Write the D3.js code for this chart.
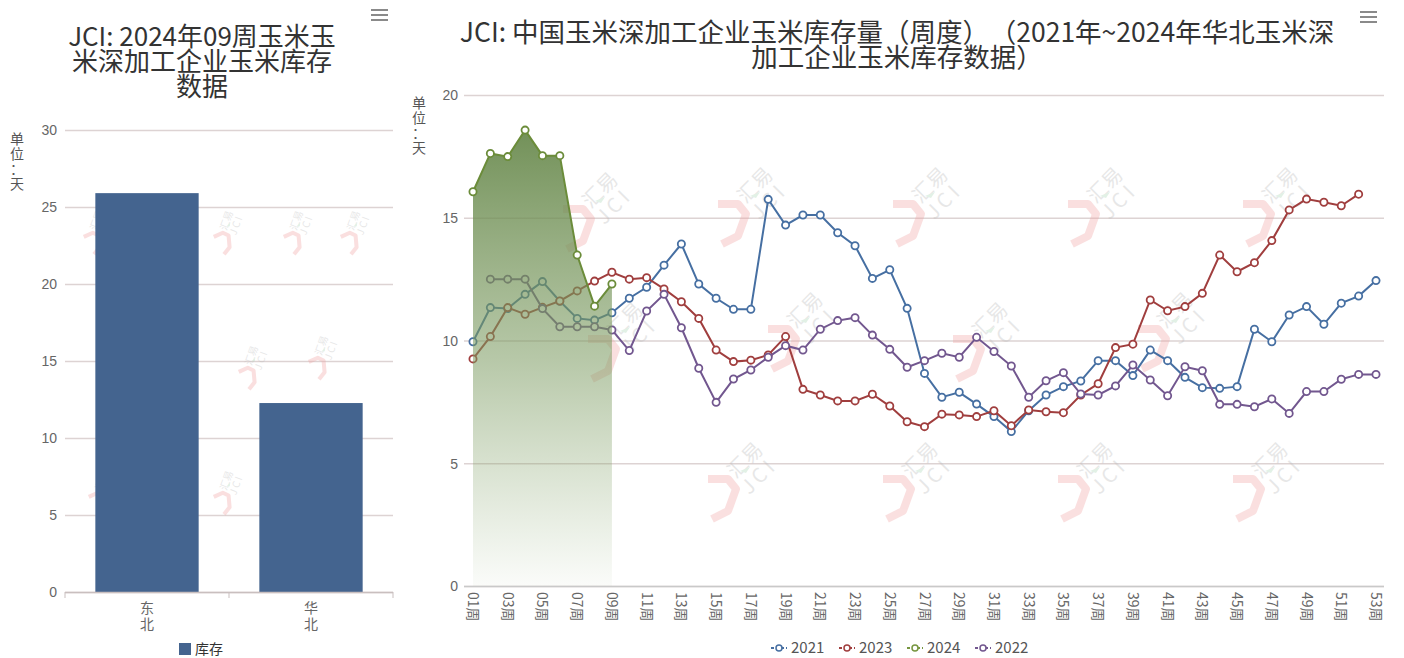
<!DOCTYPE html>
<html>
<head>
<meta charset="utf-8">
<script src="https://cdn.jsdelivr.net/npm/d3@7/dist/d3.min.js"></script>
<style>
  body { margin: 0; background: #fff; }
  svg { display: block; font-family: "Noto Sans CJK SC", "Noto Sans", sans-serif; }
  .tick text { fill: #666; font-size: 14px; }
  .grid line { stroke: #ddd3d3; stroke-width: 1.3; }
  .grid .domain { display: none; }
</style>
</head>
<body>
<div id="chart"></div>
<script>
// ---- data ----
const barCats = ["东北", "华北"];
const barVals = [25.9, 12.27];

const weeks = ["01周","02周","03周","04周","05周","06周","07周","08周","09周","10周",
  "11周","12周","13周","14周","15周","16周","17周","18周","19周","20周",
  "21周","22周","23周","24周","25周","26周","27周","28周","29周","30周",
  "31周","32周","33周","34周","35周","36周","37周","38周","39周","40周",
  "41周","42周","43周","44周","45周","46周","47周","48周","49周","50周",
  "51周","52周","53周"];

const s2021 = [9.95, 11.34, 11.3, 11.88, 12.4, 11.6, 10.9, 10.83, 11.13, 11.72,
  12.17, 13.07, 13.93, 12.3, 11.72, 11.27, 11.27, 15.75, 14.7, 15.11,
  15.11, 14.39, 13.86, 12.53, 12.88, 11.31, 8.66, 7.69, 7.89, 7.41,
  6.9, 6.29, 7.14, 7.78, 8.12, 8.35, 9.18, 9.18, 8.57, 9.61,
  9.18, 8.5, 8.08, 8.05, 8.12, 10.46, 9.95, 11.04, 11.38, 10.66,
  11.52, 11.81, 12.44];
const s2023 = [9.25, 10.16, 11.34, 11.07, 11.35, 11.61, 12.02, 12.42, 12.78, 12.5,
  12.56, 12.1, 11.58, 10.9, 9.61, 9.14, 9.2, 9.41, 10.16, 8.01,
  7.78, 7.54, 7.54, 7.81, 7.33, 6.69, 6.49, 7.0, 6.97, 6.9,
  7.14, 6.53, 7.17, 7.1, 7.06, 7.78, 8.24, 9.71, 9.85, 11.65,
  11.21, 11.38, 11.92, 13.48, 12.8, 13.17, 14.07, 15.32, 15.76, 15.63,
  15.49, 15.96, null];
const s2024 = [16.06, 17.62, 17.49, 18.57, 17.53, 17.53, 13.48, 11.4, 12.3];
const s2022 = [null, 12.5, 12.5, 12.5, 11.3, 10.56, 10.56, 10.56, 10.43, 9.59,
  11.2, 11.88, 10.52, 8.87, 7.48, 8.43, 8.8, 9.32, 9.79, 9.61,
  10.46, 10.81, 10.93, 10.22, 9.64, 8.91, 9.18, 9.48, 9.32, 10.13,
  9.55, 8.96, 7.69, 8.36, 8.69, 7.82, 7.78, 8.15, 9.0, 8.39,
  7.75, 8.93, 8.77, 7.4, 7.4, 7.3, 7.62, 7.03, 7.92, 7.92,
  8.42, 8.62, 8.62];

const seriesNames = ["2021", "2023", "2024", "2022"];
const seriesColors = ["#466fa2", "#a03e3e", "#779640", "#72578f"];

const W = 1404, H = 658;
const svg = d3.select("#chart").append("svg").attr("width", W).attr("height", H);

// ---- watermark helper (faint logo) ----
function watermark(g, x, y, s, rot) {
    let w = g.append("g").attr("transform", `translate(${x},${y}) rotate(${rot || 0}) scale(${s})`).attr("opacity", 0.33);
    w.append("path")
        .attr("d", "M-22,-6 L-2,-6 L6,4 L-2,26 L-18,34")
        .attr("fill", "none").attr("stroke", "#f0a0a0").attr("stroke-width", 8)
        .attr("stroke-linejoin", "round");
    w.append("text").attr("transform", "translate(20,-20) rotate(-45)")
        .attr("font-size", 20).attr("fill", "#b9b9b9").attr("text-anchor", "middle").text("汇易");
    w.append("text").attr("transform", "translate(34,-4) rotate(-45)")
        .attr("font-size", 20).attr("fill", "#b9b9b9").attr("text-anchor", "middle")
        .attr("letter-spacing", 4).text("JCI");
    w.append("path").attr("d", "M10,-14 l10,-4 l-4,6 z").attr("fill", "#a9d6b5");
}

function menuIcon(x, y) {
    for (let i = 0; i < 3; i++) {
        svg.append("line").attr("x1", x).attr("x2", x + 17)
            .attr("y1", y + i * 5).attr("y2", y + i * 5)
            .attr("stroke", "#8a8a8a").attr("stroke-width", 2);
    }
}

function title(lines, cx, y0, fs) {
    let t = svg.append("text").attr("text-anchor", "middle")
        .attr("font-size", fs || 26).attr("fill", "#333");
    lines.forEach((l, i) => {
        let ts = t.append("tspan").attr("x", cx).attr("y", y0 + i * 25);
        if (Array.isArray(l)) {
            ts.text(l[0]);
            t.append("tspan").attr("dx", 14).text(l[1]);
        } else ts.text(l);
    });
}

function unitLabel(x, y0) {
    let t = svg.append("text").attr("text-anchor", "middle").attr("font-size", 14).attr("fill", "#555");
    ["单", "位", "：", "天"].forEach((c, i) =>
        t.append("tspan").attr("x", x).attr("y", y0 + i * (i == 3 ? 14 : 15) + (i == 3 ? 3 : 0)).text(c));
}

// =================== LEFT: bar chart ===================
const L = { left: 65, right: 393, top: 130, bottom: 592 };

title(["JCI: 2024年09周玉米玉", "米深加工企业玉米库存", "数据"], 202, 46);
menuIcon(371, 10);
unitLabel(17, 144);

const yL = d3.scaleLinear().domain([0, 30]).range([L.bottom, L.top]);
const xL = d3.scaleBand().domain(barCats).range([L.left, L.right]);

const gL = svg.append("g");
gL.append("g").attr("class", "grid")
    .attr("transform", `translate(${L.left},0)`)
    .call(d3.axisLeft(yL).tickValues([0, 5, 10, 15, 20, 25, 30]).tickSize(-(L.right - L.left)).tickPadding(8))
    .selectAll(".tick text").attr("dy", "0.35em");

// watermarks on left chart
const wmL = gL.append("g");
[[225, 235], [295, 235], [352, 235], [250, 370], [320, 360], [225, 495], [100, 495], [95, 235]]
    .forEach(p => watermark(wmL, p[0], p[1], 0.5, -25));

gL.selectAll("rect.bar").data(barVals).enter().append("rect")
    .attr("class", "bar")
    .attr("x", (d, i) => xL(barCats[i]) + xL.bandwidth() * 0.185)
    .attr("width", xL.bandwidth() * 0.63)
    .attr("y", d => yL(d))
    .attr("height", d => yL(0) - yL(d))
    .attr("fill", "#44648f");

// x axis
gL.append("line").attr("x1", L.left).attr("x2", L.right).attr("y1", L.bottom + 0.5).attr("y2", L.bottom + 0.5)
    .attr("stroke", "#c9bfbf").attr("stroke-width", 1.3);
[L.left, L.left + xL.bandwidth(), L.right].forEach(x =>
    gL.append("line").attr("x1", x).attr("x2", x).attr("y1", L.bottom).attr("y2", L.bottom + 6)
        .attr("stroke", "#c9bfbf"));
barCats.forEach(c => {
    let t = gL.append("text").attr("text-anchor", "middle").attr("font-size", 14).attr("fill", "#666");
    c.split("").forEach((ch, i) => t.append("tspan").attr("x", xL(c) + xL.bandwidth() / 2).attr("y", 613 + i * 16).text(ch));
});

// legend
gL.append("rect").attr("x", 179).attr("y", 643).attr("width", 12).attr("height", 12).attr("fill", "#44648f");
gL.append("text").attr("x", 195).attr("y", 654).attr("font-size", 14).attr("fill", "#333").text("库存");

// =================== RIGHT: line chart ===================
const R = { left: 464, right: 1384, top: 95, bottom: 586 };

title([["JCI: 中国玉米深加工企业玉米库存量（周度）", "（2021年~2024年华北玉米深"], "加工企业玉米库存数据）"], 897, 42, 26.5);
menuIcon(1360, 12);
unitLabel(419, 108);

const yR = d3.scaleLinear().domain([0, 20]).range([R.bottom, R.top]);
const xR = d3.scalePoint().domain(weeks).range([473, 1376]);

const gR = svg.append("g");
gR.append("g").attr("class", "grid")
    .attr("transform", `translate(${R.left},0)`)
    .call(d3.axisLeft(yR).tickValues([0, 5, 10, 15, 20]).tickSize(-(R.right - R.left)).tickPadding(6))
    .selectAll(".tick text").attr("dy", "0.35em");

const wmR = gR.append("g");
[[585, 215], [740, 210], [915, 210], [1090, 210], [1265, 210],
 [610, 345], [790, 335], [975, 345], [1160, 335],
 [730, 485], [905, 485], [1080, 485], [1255, 485]]
    .forEach(p => watermark(wmR, p[0], p[1], 1));

// x axis
gR.append("line").attr("x1", R.left).attr("x2", R.right).attr("y1", R.bottom + 0.5).attr("y2", R.bottom + 0.5)
    .attr("stroke", "#c9c9c9").attr("stroke-width", 1.3);
weeks.forEach((w, i) => {
    if (i % 2 == 0) {
        gR.append("text")
            .attr("transform", `translate(${xR(w) - 5},${R.bottom + 6}) rotate(90)`)
            .attr("font-size", 14).attr("fill", "#666").text(w);
    }
});

const line = d3.line()
    .defined(d => d != null)
    .x((d, i) => xR(weeks[i]))
    .y(d => yR(d));

function drawSeries(vals, color) {
    gR.append("path").datum(vals).attr("d", line)
        .attr("fill", "none").attr("stroke", color).attr("stroke-width", 2);
    gR.append("g").selectAll("circle")
        .data(vals.map((v, i) => ({ v, i })).filter(d => d.v != null))
        .enter().append("circle")
        .attr("cx", d => xR(weeks[d.i])).attr("cy", d => yR(d.v)).attr("r", 3.6)
        .attr("fill", "#fff").attr("stroke", color).attr("stroke-width", 1.8);
}

drawSeries(s2021, seriesColors[0]);
drawSeries(s2023, seriesColors[1]);
drawSeries(s2022, seriesColors[3]);

// 2024 area with gradient
const grad = svg.append("defs").append("linearGradient").attr("id", "g24")
    .attr("x1", 0).attr("y1", 0).attr("x2", 0).attr("y2", 1);
grad.append("stop").attr("offset", 0).attr("stop-color", "#66874a").attr("stop-opacity", 0.92);
grad.append("stop").attr("offset", 0.5).attr("stop-color", "#7b9a60").attr("stop-opacity", 0.55);
grad.append("stop").attr("offset", 1).attr("stop-color", "#8aa870").attr("stop-opacity", 0.04);

const area = d3.area()
    .x((d, i) => xR(weeks[i]))
    .y0(yR(0))
    .y1(d => yR(d));
gR.append("path").datum(s2024).attr("d", area).attr("fill", "url(#g24)");
drawSeries(s2024, "#6b8c3a");

// legend
const legX = [771, 839, 907, 975];
seriesNames.forEach((n, i) => {
    const lg = gR.append("g").attr("transform", `translate(${legX[i]},648)`);
    lg.append("line").attr("x1", 0).attr("x2", 16).attr("y1", 0).attr("y2", 0)
        .attr("stroke", seriesColors[i]).attr("stroke-width", 2).attr("stroke-dasharray", "3,2");
    lg.append("circle").attr("cx", 8).attr("cy", 0).attr("r", 3)
        .attr("fill", "#fff").attr("stroke", seriesColors[i]).attr("stroke-width", 1.5);
    lg.append("text").attr("x", 20).attr("y", 5).attr("font-size", 15).attr("fill", "#555").text(n);
});
</script>
</body>
</html>
